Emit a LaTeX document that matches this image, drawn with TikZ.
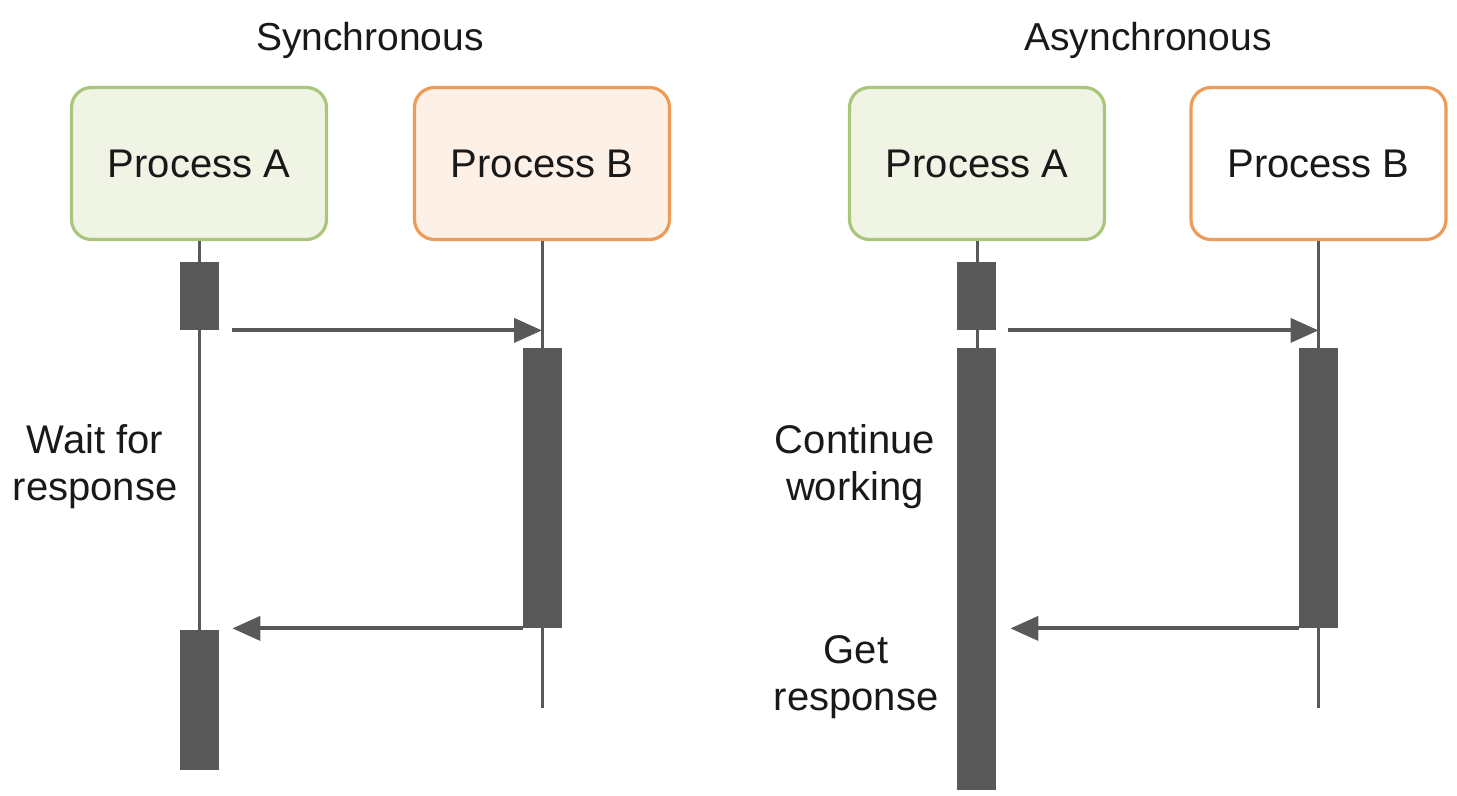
\documentclass[tikz,border=0pt]{standalone}
\usepackage{fontspec}
\setmainfont{Liberation Sans}
\usetikzlibrary{positioning}
\usetikzlibrary{arrows.meta}

\definecolor{barGray}{RGB}{89,89,89}
\definecolor{aEdge}{RGB}{170,197,124}
\definecolor{aFill}{RGB}{239,244,229}
\definecolor{bEdge}{RGB}{238,155,88}
\definecolor{bFill}{RGB}{253,241,231}

\begin{document}
\begin{tikzpicture}[x=0.5pt, y=-0.5pt,
	procBox/.style={rectangle, rounded corners=10pt, line width=1.6pt, minimum width=127.5pt, minimum height=76pt, text=black!90, font=\fontsize{20}{24}\selectfont},
	actBar/.style={rectangle, fill=barGray, minimum width=19.5pt, inner sep=0pt},
	lifeLine/.style={line width=1.5pt, color=barGray},
	msgArrow/.style={-{Triangle[length=14pt,width=12pt]}, line width=2pt, color=barGray},
	sideText/.style={align=center, text=black!90, font=\fontsize{20}{23.5}\selectfont},
	titleText/.style={text=black!90, font=\fontsize{19.5}{23}\selectfont}]
		\useasboundingbox (0,0) rectangle (1457,796);

		% titles
		\node[titleText](syncTitle) at (370,40){Synchronous};
		\node[titleText](asyncTitle) at (1148,40){Asynchronous};

		% process boxes
		\node[procBox, draw=aEdge, fill=aFill](syncA) at (199,163.5){Process A};
		\node[procBox, draw=bEdge, fill=bFill](syncB) at (542,163.5){Process B};
		\node[procBox, draw=aEdge, fill=aFill](asyncA) at (977,163.5){Process A};
		\node[procBox, draw=bEdge, fill=white](asyncB) at (1318.5,163.5){Process B};

		% activation bars
		\node[actBar, minimum height=34pt](syncABar1) at (199.5,296){};
		\node[actBar, minimum height=70pt](syncABar2) at (199.5,700){};
		\node[actBar, minimum height=140pt](syncBBar) at (542.5,488){};
		\node[actBar, minimum height=34pt](asyncABar1) at (976.5,296){};
		\node[actBar, minimum height=221pt](asyncABar2) at (976.5,569){};
		\node[actBar, minimum height=140pt](asyncBBar) at (1318.5,488){};
		\coordinate (syncBEnd) at (542,708);
		\coordinate (asyncBEnd) at (1318.5,708);

		% draw life lines
		\draw[lifeLine] (syncA.south) -- (syncABar2.north -| syncA.south);
		\draw[lifeLine] (syncB.south) -- (syncBEnd);
		\draw[lifeLine] (asyncA.south) -- (asyncABar1.north -| asyncA.south);
		\draw[lifeLine] (asyncABar1.south -| asyncA.south) -- (asyncABar2.north -| asyncA.south);
		\draw[lifeLine] (asyncB.south) -- (asyncBEnd);

		% draw messages
		\draw[msgArrow] ([xshift=6.5pt]syncABar1.south east) -- (syncABar1.south -| syncB.south);
		\draw[msgArrow] (syncBBar.south west) -- ([xshift=6.5pt]syncABar2.north east |- syncBBar.south);
		\draw[msgArrow] ([xshift=6pt]asyncABar1.south east) -- (asyncABar1.south -| asyncB.south);
		\draw[msgArrow] (asyncBBar.south west) -- ([xshift=7pt]asyncABar2.south east |- asyncBBar.south);

		% side notes
		\node[sideText](waitText) at (95,467){Wait for\\response};
		\node[sideText](contText) at (855,467){Continue\\working};
		\node[sideText](getText) at (856,677){Get\\response};
	\end{tikzpicture}
\end{document}
